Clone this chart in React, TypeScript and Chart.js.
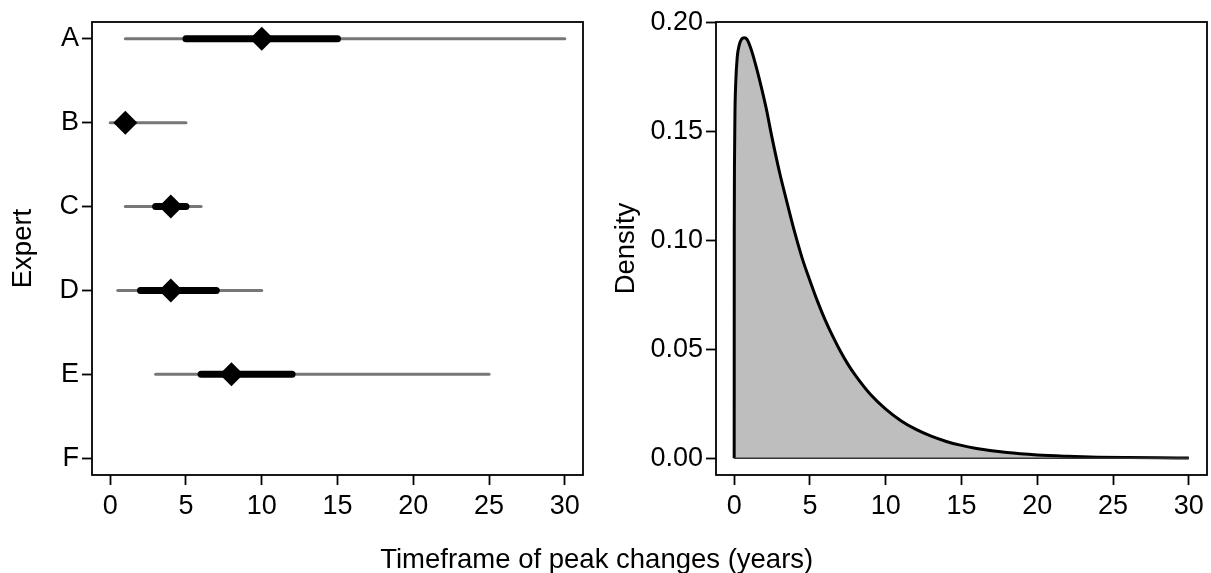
import React, { useEffect, useRef } from 'react';
import { Chart, registerables } from 'chart.js';

Chart.register(...registerables);

// ---- Left panel data (expert elicitation intervals) ----
const experts = ['A', 'B', 'C', 'D', 'E', 'F'];
const rangeLow: (number | null)[] = [1, 0, 1, 0.5, 3, null];
const rangeHigh: (number | null)[] = [30, 5, 6, 10, 25, null];
const innerLow: (number | null)[] = [5, null, 3, 2, 6, null];
const innerHigh: (number | null)[] = [15, null, 5, 7, 12, null];
const medians: (number | null)[] = [10, 1, 4, 4, 8, null];

// ---- Shared x ticks ----
const xTicks = [0, 5, 10, 15, 20, 25, 30];

// ---- Right panel data (pooled density) ----
const densityX = [0, 0.005, 0.02, 0.05, 0.1, 0.2, 0.35, 0.5, 0.66, 0.85, 1.1, 1.4, 1.75, 2.1, 2.5, 3.0, 3.5, 4.0, 4.5, 5.0, 5.5, 6.0, 6.5, 7.0, 7.5, 8.0, 9.0, 10.0, 11.0, 12.0, 13.0, 14.0, 15.0, 16.0, 18.0, 20.0, 22.0, 24.0, 26.0, 28.0, 30.0];
const densityY = [0, 0.105, 0.135, 0.158, 0.172, 0.184, 0.19, 0.1925, 0.193, 0.1922, 0.188, 0.181, 0.1715, 0.161, 0.147, 0.131, 0.117, 0.1035, 0.0915, 0.0815, 0.072, 0.0635, 0.056, 0.0492, 0.0432, 0.038, 0.0292, 0.0225, 0.0172, 0.0132, 0.0101, 0.0077, 0.0059, 0.0045, 0.0026, 0.0015, 0.0009, 0.0005, 0.0003, 0.00017, 0.0001];
const densityTicks = [0, 0.05, 0.1, 0.15, 0.2];

const FONT = "'Liberation Sans', Arial, sans-serif";
const TICK_FONT = { family: FONT, size: 27 };
const TITLE_FONT = { family: FONT, size: 27.5 };

const boxPlugin = {
  id: 'rbox',
  afterDraw(chart: any) {
    const { ctx, chartArea } = chart;
    ctx.save();
    ctx.strokeStyle = '#000';
    ctx.lineWidth = 1.8;
    ctx.strokeRect(chartArea.left, chartArea.top, chartArea.right - chartArea.left, chartArea.bottom - chartArea.top);
    ctx.restore();
  },
};

const gridOpts = {
  display: true,
  drawOnChartArea: false,
  drawTicks: true,
  tickLength: 10,
  tickColor: '#000',
  tickWidth: 1.8,
  color: '#000',
};

function xScale() {
  return {
    type: 'linear',
    min: -1.2,
    max: 31.2,
    afterBuildTicks: (s: any) => {
      s.ticks = xTicks.map((v) => ({ value: v }));
    },
    afterFit: (s: any) => {
      s.height = 98;
    },
    ticks: { font: TICK_FONT, color: '#000', padding: 5, maxRotation: 0, autoSkip: false },
    grid: gridOpts,
    border: { display: false },
  };
}

export default function App() {
  const leftRef = useRef<HTMLCanvasElement>(null);
  const rightRef = useRef<HTMLCanvasElement>(null);

  useEffect(() => {
    const datasets: any[] = [];
    experts.forEach((_, i) => {
      const lo = rangeLow[i];
      const hi = rangeHigh[i];
      if (lo !== null && hi !== null) {
        datasets.push({
          data: [{ x: lo, y: i }, { x: hi, y: i }],
          showLine: true,
          borderColor: '#777777',
          borderWidth: 3,
          borderCapStyle: 'round',
          pointRadius: 0,
          order: 3,
        });
      }
      const il = innerLow[i];
      const ih = innerHigh[i];
      if (il !== null && ih !== null) {
        datasets.push({
          data: [{ x: il, y: i }, { x: ih, y: i }],
          showLine: true,
          borderColor: '#000',
          borderWidth: 7,
          borderCapStyle: 'round',
          pointRadius: 0,
          order: 2,
        });
      }
    });
    datasets.push({
      data: medians.map((m, i) => (m === null ? null : { x: m, y: i })).filter((d) => d !== null),
      showLine: false,
      pointStyle: 'rectRot',
      pointRadius: 12,
      backgroundColor: '#000',
      borderColor: '#000',
      borderWidth: 0,
      order: 1,
    });

    const left = new Chart(leftRef.current as HTMLCanvasElement, {
      type: 'scatter',
      data: { datasets },
      options: {
        animation: false,
        responsive: false,
        maintainAspectRatio: false,
        layout: { padding: { left: 0, right: 22, top: 22, bottom: 0 } },
        plugins: { legend: { display: false }, tooltip: { enabled: false } },
        scales: {
          x: xScale() as any,
          y: {
            type: 'linear',
            reverse: true,
            min: -0.2,
            max: 5.2,
            afterBuildTicks: (s: any) => {
              s.ticks = experts.map((_, i) => ({ value: i }));
            },
            afterFit: (s: any) => {
              s.width = 92;
            },
            ticks: {
              font: TICK_FONT,
              color: '#000',
              padding: 3,
              autoSkip: false,
              callback: (v: any) => experts[Math.round(Number(v))],
            },
            grid: gridOpts,
            border: { display: false },
            title: { display: true, text: 'Expert', font: TITLE_FONT, color: '#000', padding: { top: 7, bottom: 0 } },
          } as any,
        },
      },
      plugins: [boxPlugin],
    });

    const right = new Chart(rightRef.current as HTMLCanvasElement, {
      type: 'scatter',
      data: {
        datasets: [
          {
            data: [{ x: densityX[0], y: 0 }, { x: densityX[densityX.length - 1], y: 0 }],
            showLine: true,
            borderColor: '#333',
            borderWidth: 1.5,
            pointRadius: 0,
            order: 0,
          } as any,
          {
            data: densityX.map((x, i) => ({ x, y: densityY[i] })),
            showLine: true,
            borderColor: '#000',
            borderWidth: 3,
            backgroundColor: '#bebebe',
            fill: 'origin',
            cubicInterpolationMode: 'monotone',
            pointRadius: 0,
            order: 1,
          } as any,
        ],
      },
      options: {
        animation: false,
        responsive: false,
        maintainAspectRatio: false,
        layout: { padding: { left: 0, right: 4, top: 22, bottom: 0 } },
        plugins: { legend: { display: false }, tooltip: { enabled: false } },
        scales: {
          x: xScale() as any,
          y: {
            type: 'linear',
            min: -0.0077,
            max: 0.2002,
            afterBuildTicks: (s: any) => {
              s.ticks = densityTicks.map((v) => ({ value: v }));
            },
            afterFit: (s: any) => {
              s.width = 111;
            },
            ticks: {
              font: TICK_FONT,
              color: '#000',
              padding: 3,
              autoSkip: false,
              callback: (v: any) => Number(v).toFixed(2),
            },
            grid: gridOpts,
            border: { display: false },
            title: { display: true, text: 'Density', font: TITLE_FONT, color: '#000', padding: { top: 5, bottom: 0 } },
          } as any,
        },
      },
      plugins: [boxPlugin],
    });

    return () => {
      left.destroy();
      right.destroy();
    };
  }, []);

  return (
    <div style={{ position: 'absolute', left: 0, top: 0, width: 1211, height: 573, background: '#fff', overflow: 'hidden' }}>
      <canvas ref={leftRef} width={605} height={573} style={{ position: 'absolute', left: 0, top: 0, width: 605, height: 573 }} />
      <canvas ref={rightRef} width={606} height={573} style={{ position: 'absolute', left: 605, top: 0, width: 606, height: 573 }} />
      <div
        style={{
          position: 'absolute',
          left: 0,
          top: 545,
          width: 1193.4,
          textAlign: 'center',
          fontFamily: FONT,
          fontSize: 27.5,
          lineHeight: 1,
          color: '#000',
          whiteSpace: 'nowrap',
        }}
      >
        Timeframe of peak changes (years)
      </div>
    </div>
  );
}
